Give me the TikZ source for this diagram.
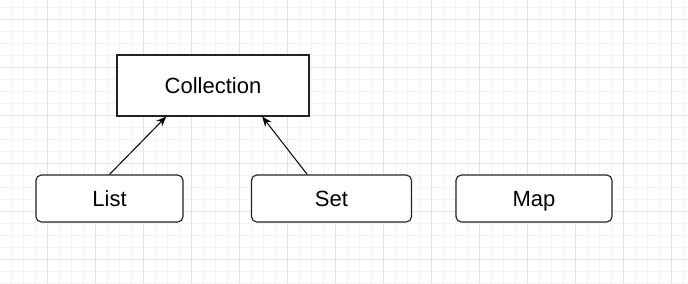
\documentclass[tikz,border=0pt]{standalone}
\usepackage{fontspec}
\setmainfont{Liberation Sans}
\usetikzlibrary{arrows.meta}
\definecolor{minorgrid}{HTML}{F3F3F3}
\definecolor{majorgrid}{HTML}{E3E3E3}
\definecolor{boxline}{HTML}{222222}
\tikzset{
  boxbase/.style={draw=boxline, line width=0.85pt, fill=white, inner sep=0pt,
    text height=12pt, text depth=0pt,
    font=\fontsize{16.5}{18}\selectfont},
  classbox/.style={boxbase, rectangle},
  roundbox/.style={boxbase, rectangle, rounded corners=4pt},
  inherit/.style={line width=0.75pt, -{Stealth[length=7.5pt,width=6pt]}}
}
\begin{document}
\begin{tikzpicture}[x=0.75pt,y=-0.75pt]
\useasboundingbox (0,0) rectangle (688,283);
\fill[white] (0,0) rectangle (688,283);
% minor grid
\foreach \i in {0,...,57} {
  \draw[minorgrid, line width=0.75pt] (11.7+12*\i,0) -- (11.7+12*\i,283);
}
\foreach \j in {0,...,23} {
  \draw[minorgrid, line width=0.75pt] (0,7.5+12*\j) -- (688,7.5+12*\j);
}
% major grid
\foreach \i in {0,...,13} {
  \draw[majorgrid, line width=0.75pt] (47.7+48*\i,0) -- (47.7+48*\i,283);
}
\foreach \j in {0,...,5} {
  \draw[majorgrid, line width=0.75pt] (0,19.5+48*\j) -- (688,19.5+48*\j);
}
% nodes
\node[classbox, minimum width=144pt, minimum height=45.75pt] (collection) at (213,85.5) {Collection};
\node[roundbox, minimum width=110.25pt, minimum height=35.25pt] (list) at (109.5,198.5) {List};
\node[roundbox, minimum width=120pt, minimum height=35.25pt] (set) at (331.5,198.5) {Set};
\node[roundbox, minimum width=117pt, minimum height=35.25pt] (map) at (534,198.5) {Map};
% connectors
\draw[inherit] (list.north) -- ([xshift=37.3pt]collection.south west);
\draw[inherit] ([xshift=42.2pt]set.north west) -- ([xshift=-35.5pt]collection.south east);
\end{tikzpicture}
\end{document}
